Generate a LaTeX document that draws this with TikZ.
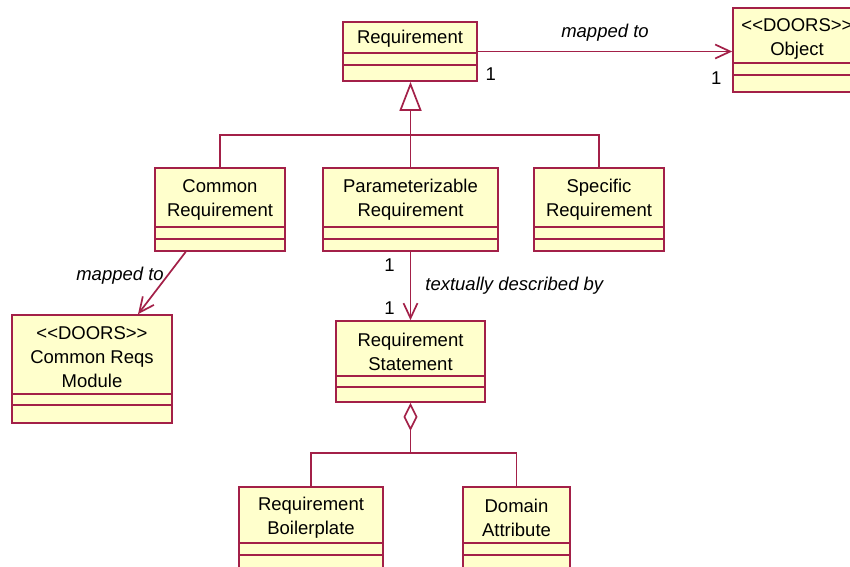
\documentclass[tikz,border=0pt]{standalone}
\usepackage{fontspec}
\setmainfont{Liberation Sans}
\usetikzlibrary{arrows.meta,positioning}
\definecolor{umlborder}{RGB}{163,32,72}
\definecolor{umlfill}{RGB}{255,255,204}
\newcommand{\doors}{<\kern0pt<DOORS>\kern0pt>}

\begin{document}
\begin{tikzpicture}[x=1pt,y=-1pt,
  class box/.style={rectangle,draw=umlborder,fill=umlfill,line width=1.7pt,inner sep=0pt},
  class line/.style={draw=umlborder,line width=1.5pt},
  class name/.style={align=center,inner sep=0pt,font=\fontsize{18.5}{24}\selectfont},
  assoc/.style={draw=umlborder,line width=1.7pt},
  role/.style={inner sep=2pt,font=\fontsize{18.5}{24}\selectfont},
  rel name/.style={inner sep=2pt,font=\fontsize{18.5}{24}\selectfont\itshape},
  open tip/.style={-{Straight Barb[length=15pt,width=14pt]}}]

 \path[fill=white] (0,0) rectangle (850,566);
 \useasboundingbox (0,0) rectangle (850,566);

 % classes
 \node[class box,minimum width=134pt,minimum height=59pt] (req) at (410,51.5) {};
 \node[class box,minimum width=128pt,minimum height=84pt] (obj) at (797,50) {};
 \node[class box,minimum width=130pt,minimum height=83pt] (comreq) at (220,209.5) {};
 \node[class box,minimum width=175pt,minimum height=83pt] (paramreq) at (410.5,209.5) {};
 \node[class box,minimum width=130pt,minimum height=83pt] (specreq) at (599,209.5) {};
 \node[class box,minimum width=160pt,minimum height=108pt] (module) at (92,369) {};
 \node[class box,minimum width=149pt,minimum height=81pt] (stmt) at (410.5,361.5) {};
 \node[class box,minimum width=144pt,minimum height=113pt] (boiler) at (311,543.5) {};
 \node[class box,minimum width=107pt,minimum height=113pt] (domain) at (516.5,543.5) {};

 % compartments
 \draw[class line] (343,53) -- (477,53) (343,65) -- (477,65);
 \draw[class line] (733,63) -- (861,63) (733,75) -- (861,75);
 \draw[class line] (155,227) -- (285,227) (155,239) -- (285,239);
 \draw[class line] (323,227) -- (498,227) (323,239) -- (498,239);
 \draw[class line] (534,227) -- (664,227) (534,239) -- (664,239);
 \draw[class line] (12,394) -- (172,394) (12,405) -- (172,405);
 \draw[class line] (336,376) -- (485,376) (336,387) -- (485,387);
 \draw[class line] (239,543) -- (383,543) (239,555) -- (383,555);
 \draw[class line] (463,543) -- (570,543) (463,555) -- (570,555);

 \node[class name] (req-name) at (410,39) {Requirement};
 \node[class name] (obj-name) at (797,39) {\doors\\Object};
 \node[class name] (comreq-name) at (220,199.5) {Common\\Requirement};
 \node[class name] (paramreq-name) at (410.5,199.5) {Parameterizable\\Requirement};
 \node[class name] (specreq-name) at (599,199.5) {Specific\\Requirement};
 \node[class name] (module-name) at (92,357.5) {\doors\\Common Reqs\\Module};
 \node[class name] (stmt-name) at (410.5,352) {Requirement\\Statement};
 \node[class name] (boiler-name) at (311,518) {Requirement\\Boilerplate};
 \node[class name] (domain-name) at (516.5,518) {Domain\\Attribute};

 % generalization
 \coordinate (genbar) at (410.5,135);
 \draw[assoc] (comreq.north) |- (genbar) -| (specreq.north);
 \draw[assoc,-{Triangle[length=29pt,width=22pt,fill=white]}] (paramreq.north) -- (paramreq.north |- req.south);

 % associations
 \draw[assoc,open tip] (req.east) -- (req.east -| obj.west)
    node[rel name,midway,above=7pt] {mapped to}
    node[role,pos=0,below right=13pt and 5pt] {1}
    node[role,pos=1,below left=17pt and 8pt] {1};
 \draw[assoc,open tip] (comreq.231) -- (module.50)
    node[rel name,pos=0.38,left=1pt] {mapped to};
 \draw[assoc,open tip] (paramreq.south) -- (stmt.north)
    node[rel name,midway,right=12pt] {textually described by}
    node[role,pos=0,below left=4pt and 13pt] {1}
    node[role,pos=1,above left=3pt and 13pt] {1};

 % aggregation
 \coordinate (aggbar) at (410.5,453);
 \draw[assoc] (boiler.north) |- (aggbar) -| (domain.north);
 \draw[assoc,-{Diamond[length=28pt,width=14pt,fill=white]}] (aggbar) -- (stmt.south);

\end{tikzpicture}
\end{document}
